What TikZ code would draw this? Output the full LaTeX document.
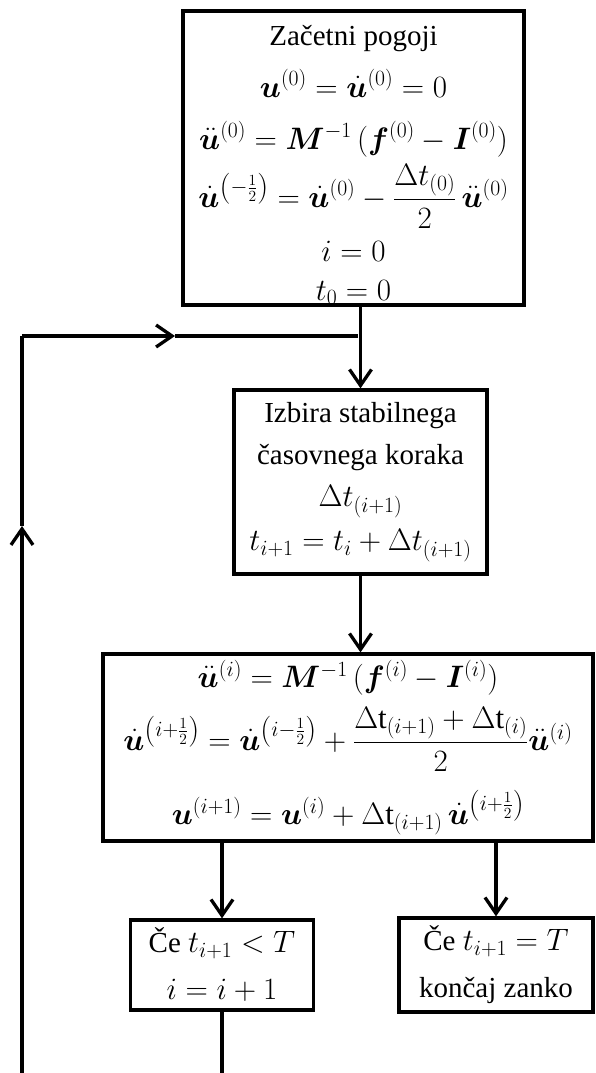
\RequirePackage{fix-cm}
\documentclass[tikz,border=0pt]{standalone}
\usepackage{fontspec}
\setmainfont{Liberation Serif}
\usepackage{amsmath,bm}
\usetikzlibrary{arrows.meta}

\newcommand{\eqline}[1]{{\fontsize{31}{44}\selectfont$#1$}}

\tikzset{
    box/.style={draw, line width=3.3pt, align=center, inner sep=0pt, font=\fontsize{29}{47}\selectfont},
    flow/.style={line width=3.3pt},
    arr/.style={flow, -{Straight Barb[length=16pt,width=22pt]}}
}

\begin{document}
\begin{tikzpicture}[x=1pt,y=-1pt]
    \useasboundingbox (0,0) rectangle (596,1073);

    %boxes of the scheme
        \node[box, font=\fontsize{29}{48}\selectfont, minimum width=341pt, minimum height=294pt] (init) at (353.5,158)
            {\rule{0pt}{34pt}Začetni pogoji\\[4pt]
             \eqline{\bm{u}^{(0)} = \dot{\bm{u}}^{(0)} = 0}\\[4pt]
             \eqline{\ddot{\bm{u}}^{(0)} = \bm{M}^{-1}\,(\bm{f}^{(0)} - \bm{I}^{(0)})}\\[6pt]
             \eqline{\dot{\bm{u}}^{\left(-\frac{1}{2}\right)} = \dot{\bm{u}}^{(0)} - \dfrac{\Delta t_{(0)}}{2}\,\ddot{\bm{u}}^{(0)}}\\[6pt]
             \eqline{i = 0}\\[-9pt]
             \eqline{t_0 = 0}};
        \node[box, font=\fontsize{29}{42}\selectfont, minimum width=253pt, minimum height=184pt] (step) at (360.5,482)
            {Izbira stabilnega\\
             časovnega koraka\\
             \eqline{\Delta t_{(i+1)}}\\[2pt]
             \eqline{t_{i+1} = t_i + \Delta t_{(i+1)}}};
        \node[box, font=\fontsize{29}{63}\selectfont, minimum width=490pt, minimum height=187pt] (update) at (348,747.5)
            {\eqline{\ddot{\bm{u}}^{(i)} = \bm{M}^{-1}\,(\bm{f}^{(i)} - \bm{I}^{(i)})}\\
             \eqline{\dot{\bm{u}}^{\left(i+\frac{1}{2}\right)} = \dot{\bm{u}}^{\left(i-\frac{1}{2}\right)} + \dfrac{\Delta\mathrm{t}_{(i+1)} + \Delta\mathrm{t}_{(i)}}{2}\ddot{\bm{u}}^{(i)}}\\[11pt]
             \eqline{\bm{u}^{(i+1)} = \bm{u}^{(i)} + \Delta\mathrm{t}_{(i+1)}\,\dot{\bm{u}}^{\left(i+\frac{1}{2}\right)}}};
        \node[box, minimum width=183pt, minimum height=90pt] (cont) at (222,965)
            {Če \eqline{t_{i+1} < T}\\
             \eqline{i = i + 1}};
        \node[box, minimum width=194pt, minimum height=94pt] (stop) at (496,965)
            {Če \eqline{t_{i+1} = T}\\
             končaj zanko};

    %points of the loop
        \coordinate (join) at (358,336);
        \coordinate (loopbl) at (22,1080);
        \coordinate (loopup) at (22,526);
        \coordinate (looptl) at (22,336);
        \coordinate (loopmid) at (175,336);

    %arrows
        \draw[arr] (step.north |- init.south) -- (step.north);
        \draw[arr] (step.south) -- (step.south |- update.north);
        \draw[arr] (cont.north |- update.south) -- (cont.north);
        \draw[arr] (stop.north |- update.south) -- (stop.north);

    %loop back
        \draw[arr] (cont.south) |- (loopbl) -- (loopup);
        \draw[flow] (loopup) -- (looptl);
        \draw[arr] (looptl) -- (loopmid);
        \draw[flow] (loopmid) -- (join);

\end{tikzpicture}
\end{document}
